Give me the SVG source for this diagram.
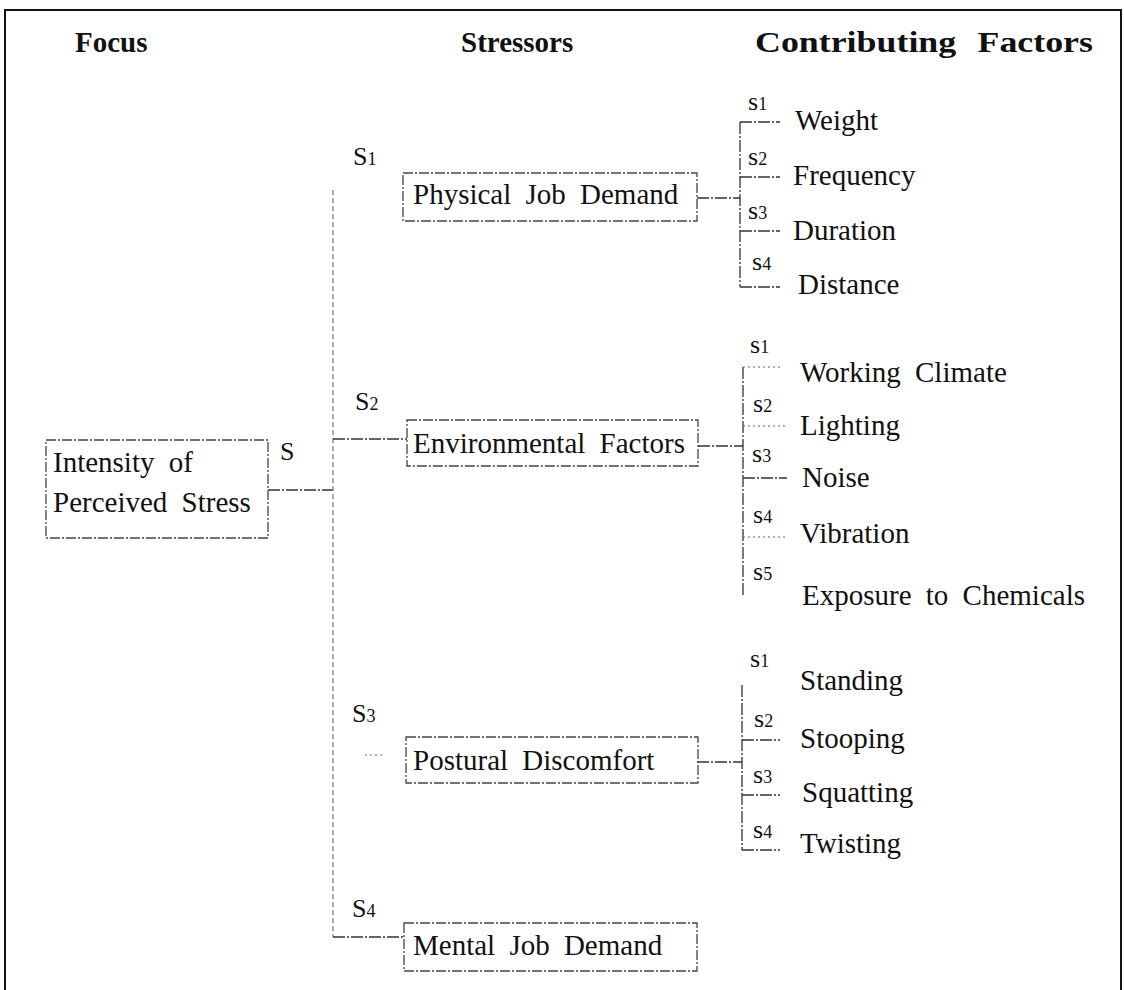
<svg xmlns="http://www.w3.org/2000/svg" width="1124" height="990" viewBox="0 0 1124 990">
<style>
text{font-family:"Liberation Serif","Times New Roman",serif;fill:#111}
.h{font-weight:bold;font-size:29px}
.t{font-size:29px;word-spacing:7px}
.big{font-size:26px}
.sub{font-size:18px}
.sm{font-size:26px}
.box{fill:none;stroke:#444;stroke-width:1.3;stroke-dasharray:10 2 2 2}
.c{fill:none;stroke:#333;stroke-width:1.3;stroke-dasharray:12 2 2 2}
.trunk{fill:none;stroke:#777;stroke-width:1.2;stroke-dasharray:5 3}
.dot{fill:none;stroke:#666;stroke-width:1.2;stroke-dasharray:2 3}
</style>
<rect width="1124" height="990" fill="#fff"/>
<path d="M5,990 V10 H1121 V990" fill="none" stroke="#111" stroke-width="2"/>
<g id="headers">
<text class="h" x="75" y="52">Focus</text>
<text class="h" x="461" y="52">Stressors</text>
<text class="h" x="755" y="52" style="word-spacing:10px" textLength="338" lengthAdjust="spacingAndGlyphs">Contributing Factors</text>
</g>
<g id="connectors">
<path class="c" d="M268,490 H333"/>
<path class="trunk" d="M333,190 V937"/>
<path class="c" d="M333,439 H407"/>
<path class="c" d="M333,937 H404"/>
<path class="dot" d="M365,755 H382"/>
<path class="c" d="M697,198 H740"/>
<path class="c" d="M740,122 V287"/>
<path class="c" d="M740,122 H780 M740,177 H780 M740,231 H780 M740,287 H780"/>
<path class="c" d="M698,446 H743"/>
<path class="c" d="M743,367 V595"/>
<path class="dot" d="M743,367 H780 M743,426 H787"/>
<path class="c" d="M743,478 H787"/>
<path class="dot" d="M743,537 H787"/>
<path class="c" d="M697,762 H742"/>
<path class="c" d="M742,685 V850"/>
<path class="c" d="M742,740 H780 M742,795 H780 M742,850 H780"/>
</g>
<g id="focus">
<rect class="box" x="46" y="440" width="222" height="98"/>
<text class="t" x="53" y="472">Intensity of</text>
<text class="t" x="53" y="512">Perceived Stress</text>
<text class="big" x="280" y="460">S</text>
</g>
<g id="s1">
<text class="big" x="353" y="165">S<tspan class="sub">1</tspan></text>
<rect class="box" x="403" y="173" width="294" height="48"/>
<text class="t" x="413" y="204">Physical Job Demand</text>
</g>
<g id="s2">
<text class="big" x="355" y="410">S<tspan class="sub">2</tspan></text>
<rect class="box" x="407" y="420" width="291" height="46"/>
<text class="t" x="413" y="453">Environmental Factors</text>
</g>
<g id="s3">
<text class="big" x="352" y="722">S<tspan class="sub">3</tspan></text>
<rect class="box" x="406" y="737" width="292" height="46"/>
<text class="t" x="413" y="770">Postural Discomfort</text>
</g>
<g id="s4">
<text class="big" x="352" y="917">S<tspan class="sub">4</tspan></text>
<rect class="box" x="404" y="923" width="293" height="48"/>
<text class="t" x="413" y="955">Mental Job Demand</text>
</g>
<g id="physical-factors">
<text class="sm" x="748" y="110">s<tspan class="sub">1</tspan></text>
<text class="t" x="795" y="130">Weight</text>
<text class="sm" x="748" y="165">s<tspan class="sub">2</tspan></text>
<text class="t" x="793" y="185">Frequency</text>
<text class="sm" x="748" y="219">s<tspan class="sub">3</tspan></text>
<text class="t" x="793" y="240">Duration</text>
<text class="sm" x="752" y="270">s<tspan class="sub">4</tspan></text>
<text class="t" x="798" y="294">Distance</text>
</g>
<g id="environmental-factors">
<text class="sm" x="750" y="353">s<tspan class="sub">1</tspan></text>
<text class="t" x="800" y="382">Working Climate</text>
<text class="sm" x="753" y="412">s<tspan class="sub">2</tspan></text>
<text class="t" x="800" y="435">Lighting</text>
<text class="sm" x="752" y="462">s<tspan class="sub">3</tspan></text>
<text class="t" x="802" y="487">Noise</text>
<text class="sm" x="753" y="523">s<tspan class="sub">4</tspan></text>
<text class="t" x="800" y="543">Vibration</text>
<text class="sm" x="753" y="580">s<tspan class="sub">5</tspan></text>
<text class="t" x="802" y="605">Exposure to Chemicals</text>
</g>
<g id="postural-factors">
<text class="sm" x="750" y="667">s<tspan class="sub">1</tspan></text>
<text class="t" x="800" y="690">Standing</text>
<text class="sm" x="754" y="727">s<tspan class="sub">2</tspan></text>
<text class="t" x="800" y="748">Stooping</text>
<text class="sm" x="753" y="783">s<tspan class="sub">3</tspan></text>
<text class="t" x="802" y="802">Squatting</text>
<text class="sm" x="753" y="838">s<tspan class="sub">4</tspan></text>
<text class="t" x="800" y="853">Twisting</text>
</g>
</svg>
